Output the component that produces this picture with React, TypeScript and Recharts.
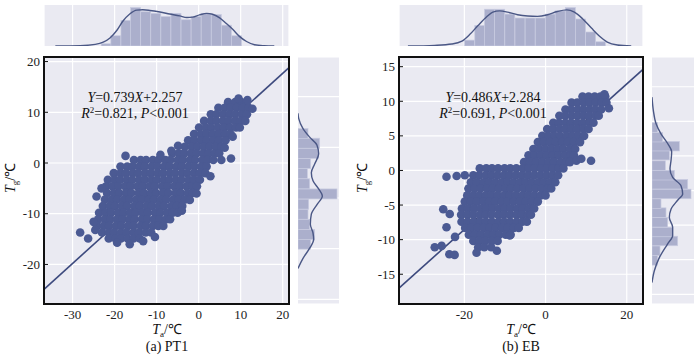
import React from "react";
import { ComposedChart, Scatter, Line, Bar, XAxis, YAxis, CartesianGrid } from "recharts";

const BG = "#eaeaf2";
const DOT = "#4b5a93";
const FIT = "#3d4a7e";
const BAR = "#abafcc";
const KDE = "#4a5785";
const FONT = "'Liberation Serif', 'Times New Roman', serif";

// ---------- panel (a) PT1 ----------
const xTicksA = [-30, -20, -10, 0, 10, 20];
const yTicksA = [-20, -10, 0, 10, 20];

// scatter cloud read row by row: [Tg, [Ta, ...]]
const rowsA: [number, number[]][] = [
  [12.0, [7.0, 8.7, 10.1, 11.4]],
  [10.9, [4.7, 6.2, 7.6, 9.1, 10.5, 11.9]],
  [9.6, [2.9, 4.2, 5.8, 7.3, 8.7, 10.3, 11.5]],
  [8.3, [1.3, 2.9, 4.2, 5.8, 7.1, 8.7, 10.0, 11.1]],
  [7.0, [0.1, 1.7, 3.0, 4.6, 6.0, 7.5, 8.9, 9.8]],
  [5.7, [-1.1, 0.5, 1.9, 3.4, 4.8, 6.3, 7.6]],
  [4.5, [-2.5, -1.0, 0.6, 1.9, 3.5, 4.8, 6.4]],
  [3.2, [-3.3, -1.7, -0.3, 1.2, 2.6, 4.1, 5.4]],
  [1.9, [-6.3, -4.7, -3.4, -1.8, -0.5, 1.1, 2.4, 3.9, 4.9]],
  [0.6, [-15.4, -13.8, -12.5, -10.9, -9.6, -7.9, -6.7, -5.0, -3.7, -2.1, -0.8, 0.9, 2.1, 3.5]],
  [-0.7, [-18.6, -17.0, -15.7, -14.1, -12.8, -11.2, -9.8, -8.2, -6.9, -5.3, -4.0, -2.4, -1.0, 0.6, 1.9]],
  [-2.0, [-20.2, -18.6, -17.3, -15.7, -14.4, -12.8, -11.4, -9.8, -8.5, -6.9, -5.6, -4.0, -2.7, -1.1, 0.3, 1.6]],
  [-3.3, [-21.6, -20.0, -18.7, -17.1, -15.8, -14.1, -12.8, -11.2, -9.9, -8.3, -7.0, -5.4, -4.1, -2.4, -1.1, 0.3]],
  [-4.6, [-22.0, -20.5, -19.1, -17.5, -16.2, -14.6, -13.3, -11.7, -10.4, -8.7, -7.4, -5.8, -4.5, -2.9, -1.5, -0.4]],
  [-5.9, [-21.8, -20.2, -18.9, -17.3, -16.0, -14.3, -13.0, -11.4, -10.1, -8.5, -7.2, -5.5, -4.2, -2.6, -1.4]],
  [-7.2, [-22.3, -20.7, -19.4, -17.8, -16.5, -14.8, -13.5, -11.9, -10.6, -9.0, -7.7, -6.0, -4.7, -3.2]],
  [-8.5, [-22.8, -21.2, -19.9, -18.3, -17.0, -15.3, -14.0, -12.4, -11.1, -9.5, -8.2, -6.5, -5.2, -3.9]],
  [-9.8, [-23.7, -22.2, -20.8, -19.2, -17.9, -16.3, -15.0, -13.4, -12.1, -10.4, -9.1, -7.5, -6.2, -5.0]],
  [-11.1, [-23.9, -22.3, -21.0, -19.4, -18.1, -16.5, -15.2, -13.5, -12.2, -10.6, -9.3, -7.7, -6.8]],
  [-12.4, [-24.2, -22.6, -21.3, -19.7, -18.4, -16.8, -15.5, -13.8, -12.5, -10.9, -9.6, -8.4]],
  [-13.7, [-23.0, -21.4, -20.1, -18.5, -17.2, -15.5, -14.2, -12.6, -11.3]],
  [-14.9, [-21.4, -19.8, -18.5, -16.9, -15.5, -14.0]],
];
const loneA: [number, number][] = [
  [-28.2, -13.7], [-26.3, -14.9], [-25.0, -11.6], [-24.6, -13.2], [-19.4, -15.7],
  [-16.4, -16.0], [-13.2, -15.4], [-10.4, -14.6], [-23.1, -5.0], [-24.3, -6.6],
  [-17.4, 1.4], [-9.1, 1.6], [-6.5, 2.4], [-4.9, 3.4], [-2.1, -7.3], [-4.0, -9.4],
  [-0.5, -6.0], [5.4, 0.6], [7.7, 0.9], [8.1, 5.2], [6.2, 3.0], [12.8, 10.7],
  [11.6, 12.4], [9.5, 12.7], [2.8, -2.6],
];
const fitA = [{ x: -36.8, y: -24.9 }, { x: 21.5, y: 18.8 }];

const binXA = [-22.0, -19.7, -17.3, -15.0, -12.6, -10.2, -7.8, -5.4, -3.0, -0.6, 1.8, 4.2, 6.6, 9.0];
const cntXA = [7, 32, 80, 120, 107, 102, 92, 102, 82, 92, 102, 98, 65, 32];
const kdeXA_x = [-34.1, -28.2, -24.6, -22.7, -21.1, -19.4, -18.0, -16.4, -14.7, -13.3, -11.6, -9.2, -6.9, -4.5, -2.8, -1.4, 0.2, 1.9, 3.3, 5.0, 6.6, 8.1, 9.7, 11.4, 13.3, 15.6, 18.0];
const kdeXA_d = [0, 1, 5, 12, 25, 50, 78, 100, 112, 113, 111, 106, 100, 94, 89, 90, 97, 102, 99, 88, 70, 52, 30, 14, 4, 1, 0];

const binYA = [9.1, 7.2, 5.2, 3.2, 1.2, -0.8, -2.8, -4.8, -6.8, -8.8, -10.8, -12.7];
const cntYA = [38, 50, 35, 30, 32, 117, 35, 28, 38, 62, 65, 30];
const kdeYA_y = [13.9, 11.9, 9.9, 8.2, 6.9, 5.2, 3.2, 1.3, -0.4, -1.7, -3.4, -5.0, -6.7, -8.7, -10.4, -12.0, -13.7, -15.7, -16.7];
const kdeYA_d = [0, 15, 35, 47, 45, 37, 40, 57, 73, 63, 45, 40, 50, 62, 57, 35, 15, 2, 0];

// ---------- panel (b) EB ----------
const xTicksB = [-20, 0, 20];
const yTicksB = [-15, -10, -5, 0, 5, 10, 15];

const rowsB: [number, number[]][] = [
  [10.7, [9.1, 10.6, 12.1, 13.5, 14.7]],
  [9.8, [6.4, 7.8, 9.4, 10.8, 12.3, 13.8, 15.0]],
  [8.8, [4.9, 6.3, 7.9, 9.3, 10.8, 12.2, 13.7]],
  [7.9, [3.4, 4.8, 6.4, 7.8, 9.3, 10.7, 12.3, 13.1]],
  [6.9, [1.9, 3.3, 4.9, 6.3, 7.8, 9.2, 10.8, 11.8]],
  [6.0, [0.4, 1.8, 3.4, 4.8, 6.3, 7.7, 9.3, 10.6]],
  [5.0, [-0.8, 0.7, 2.2, 3.6, 5.2, 6.6, 8.1, 9.5]],
  [4.1, [-1.9, -0.4, 1.1, 2.5, 4.1, 5.5, 7.0, 8.5]],
  [3.1, [-3.0, -1.5, 0.0, 1.5, 3.0, 4.4, 6.0, 7.3]],
  [2.2, [-4.2, -2.7, -1.2, 0.3, 1.8, 3.2, 4.8, 6.2, 7.0]],
  [1.2, [-5.3, -3.8, -2.3, -0.8, 0.7, 2.1, 3.7, 5.1, 6.0]],
  [0.3, [-16.2, -14.6, -13.2, -11.7, -10.1, -8.7, -7.2, -5.6, -4.2, -2.7, -1.1, 0.3, 1.8, 3.2, 4.4]],
  [-0.7, [-17.8, -16.3, -14.7, -13.3, -11.8, -10.2, -8.8, -7.3, -5.8, -4.3, -2.8, -1.3, 0.2, 1.7, 3.1]],
  [-1.7, [-18.4, -16.9, -15.3, -13.9, -12.4, -10.8, -9.4, -7.9, -6.3, -4.9, -3.4, -1.8, -0.4, 1.1, 2.4]],
  [-2.6, [-19.0, -17.5, -16.0, -14.4, -13.0, -11.5, -9.9, -8.5, -7.0, -5.4, -4.0, -2.5, -0.9, 0.5, 1.4]],
  [-3.6, [-19.3, -17.8, -16.3, -14.7, -13.3, -11.8, -10.2, -8.8, -7.3, -5.7, -4.3, -2.8, -1.2, 0.0]],
  [-4.5, [-19.9, -18.4, -16.9, -15.3, -13.9, -12.4, -10.8, -9.4, -7.9, -6.3, -4.9, -3.4, -1.9]],
  [-5.5, [-20.6, -19.1, -17.6, -16.0, -14.6, -13.1, -11.5, -10.1, -8.6, -7.0, -5.6, -4.1, -2.8]],
  [-6.4, [-20.8, -19.3, -17.8, -16.2, -14.8, -13.3, -11.7, -10.3, -8.8, -7.2, -5.8, -4.3, -3.6]],
  [-7.4, [-20.7, -19.2, -17.7, -16.1, -14.7, -13.2, -11.6, -10.2, -8.7, -7.1, -5.7, -4.6]],
  [-8.3, [-19.8, -18.3, -16.8, -15.2, -13.8, -12.3, -10.7, -9.3, -7.8, -6.6]],
  [-9.3, [-18.9, -17.4, -15.9, -14.3, -12.9, -11.4, -9.8, -8.6]],
  [-10.2, [-17.8, -16.3, -14.8, -13.2, -11.8]],
  [-11.1, [-16.6, -15.1, -13.4]],
];
const loneB: [number, number][] = [
  [-24.4, -0.9], [-21.9, -0.8], [-19.9, -0.7], [-25.2, -5.6], [-23.6, -6.3],
  [-24.4, -8.2], [-25.6, -10.9], [-27.3, -11.1], [-23.7, -12.1], [-22.4, -12.2],
  [-17.0, -11.9], [-8.8, -9.4], [-12.0, -11.6], [7.6, 1.4], [8.8, 1.7],
  [11.2, 1.4], [14.5, 11.0], [15.6, 9.0], [-22.3, -9.6],
];
const fitB = [{ x: -36.1, y: -17.0 }, { x: 24.0, y: 14.6 }];

const binXB = [-18.7, -16.2, -13.8, -11.3, -8.8, -6.3, -3.8, -1.3, 1.2, 3.6, 6.1, 8.6, 11.1, 13.5];
const cntXB = [18, 63, 113, 113, 98, 86, 86, 86, 98, 108, 118, 83, 43, 13];
const kdeXB_x = [-33.9, -27.3, -23.1, -20.6, -18.7, -16.7, -14.5, -13.0, -11.3, -9.3, -6.9, -4.4, -2.0, 0.5, 2.9, 5.2, 7.1, 9.1, 11.3, 13.3, 15.2, 17.7, 21.1];
const kdeXB_d = [0, 2, 6, 15, 35, 62, 90, 104, 108, 104, 96, 92, 91, 96, 106, 111, 104, 84, 55, 30, 12, 3, 0];

const binYB = [10.1, 8.7, 7.3, 6.0, 4.6, 3.2, 1.9, 0.5, -0.9, -2.2, -3.6, -5.1, -6.4, -7.7, -9.1];
const cntYB = [17, 24, 77, 62, 47, 42, 27, 117, 107, 67, 40, 52, 82, 32, 17];
const kdeYB_y = [13.3, 11.6, 9.7, 7.7, 6.5, 5.3, 3.9, 2.7, 1.4, 0.5, -0.7, -1.9, -3.1, -4.3, -5.6, -6.8, -8.2, -9.7, -11.6, -13.5];
const kdeYB_d = [0, 7, 22, 47, 62, 62, 52, 57, 77, 92, 87, 62, 54, 57, 59, 47, 27, 12, 4, 0];

const toPoints = (rows: [number, number[]][], lone: [number, number][]) => [
  ...rows.flatMap(([y, xs]) => xs.map((x) => ({ x, y }))),
  ...lone.map(([x, y]) => ({ x, y })),
];
const zipX = (xs: number[], ds: number[], key: string) => xs.map((x, i) => ({ x, [key]: ds[i] }));
const zipY = (ys: number[], ds: number[], key: string) => ys.map((y, i) => ({ y, [key]: ds[i] }));

const dotShape = (p: any) => <circle cx={p.cx} cy={p.cy} r={4.3} fill={DOT} />;

// histogram bars: keep recharts' position, force the bin width in pixels
const colBar = (px: number) => (p: any) => (
  <rect x={p.x + p.width / 2 - px / 2} y={p.y} width={px} height={Math.max(0, p.height)}
    fill={BAR} stroke="#c8cbe0" strokeWidth={0.7} />
);
const rowBar = (px: number) => (p: any) => (
  <rect x={p.x} y={p.y + p.height / 2 - px / 2} width={Math.max(0, p.width)} height={px}
    fill={BAR} stroke="#c8cbe0" strokeWidth={0.7} />
);

const yTick = (p: any) => (
  <g>
    <line x1={p.x + 4} x2={p.x + 8} y1={p.y} y2={p.y} stroke="#111" strokeWidth={1} />
    <text x={p.x} y={p.y} dy="0.35em" textAnchor="end" fontSize={13} fontFamily={FONT} fill="#222">
      {p.payload.value}
    </text>
  </g>
);
const xTick = (p: any) => (
  <text x={p.x} y={p.y} dy="0.75em" textAnchor="middle" fontSize={13} fontFamily={FONT} fill="#222">
    {p.payload.value}
  </text>
);

const M0 = { top: 0, right: 0, bottom: 0, left: 0 };

function MainPlot(props: any) {
  const { left, top, w, h, xDomain, yDomain, xTicks, yTicks, points, fit } = props;
  const aw = 44;
  const ah = 24;
  const pad = 10;
  return (
    <div style={{ position: "absolute", left: left - aw, top: top - pad, width: w + aw + pad, height: h + ah + pad }}>
      <ComposedChart width={w + aw + pad} height={h + ah + pad} margin={{ top: pad, right: pad, bottom: 0, left: 0 }}>
        <CartesianGrid fill={BG} fillOpacity={1} stroke="#ffffff" strokeWidth={1.2} />
        <XAxis type="number" dataKey="x" domain={xDomain} ticks={xTicks} interval={0} allowDataOverflow
          height={ah} axisLine={false} tickLine={false} tickSize={0} tickMargin={5} tick={xTick} />
        <YAxis type="number" dataKey="y" domain={yDomain} ticks={yTicks} interval={0} allowDataOverflow
          width={aw} axisLine={false} tickLine={false} tickSize={0} tickMargin={4} tick={yTick} />
        <Scatter data={points} fill={DOT} shape={dotShape} isAnimationActive={false} />
        <Line data={fit} dataKey="y" type="linear" stroke={FIT} strokeWidth={1.6} dot={false} isAnimationActive={false} />
      </ComposedChart>
      <div style={{ position: "absolute", left: aw - 1, top: pad - 1, width: w + 2, height: h + 2, border: "2px solid #111", boxSizing: "border-box" }} />
    </div>
  );
}

function TopHist(props: any) {
  const { left, top, w, h, xDomain, xTicks, bars, kde, max, barPx } = props;
  return (
    <div style={{ position: "absolute", left, top, width: w, height: h }}>
      <ComposedChart width={w} height={h} data={bars} margin={M0}>
        <CartesianGrid fill={BG} fillOpacity={1} stroke="#ffffff" strokeWidth={1.2} horizontal={false} />
        <XAxis type="number" dataKey="x" domain={xDomain} ticks={xTicks} allowDataOverflow hide />
        <YAxis type="number" domain={[0, max]} allowDataOverflow hide />
        <Bar dataKey="c" fill={BAR} shape={colBar(barPx)} isAnimationActive={false} />
        <Line data={kde} dataKey="d" type="monotone" stroke={KDE} strokeWidth={1.4} dot={false} isAnimationActive={false} />
      </ComposedChart>
    </div>
  );
}

function SideHist(props: any) {
  const { left, top, w, h, yDomain, yTicks, bars, kde, max, barPx } = props;
  return (
    <div style={{ position: "absolute", left, top, width: w, height: h }}>
      <ComposedChart layout="vertical" width={w} height={h} data={bars} margin={M0}>
        <CartesianGrid fill={BG} fillOpacity={1} stroke="#ffffff" strokeWidth={1.2} vertical={false} />
        <XAxis type="number" domain={[0, max]} allowDataOverflow hide />
        <YAxis type="number" dataKey="y" domain={yDomain} ticks={yTicks} allowDataOverflow hide />
        <Bar dataKey="c" fill={BAR} shape={rowBar(barPx)} isAnimationActive={false} />
        <Line data={kde} dataKey="d" type="monotone" stroke={KDE} strokeWidth={1.4} dot={false} isAnimationActive={false} />
      </ComposedChart>
    </div>
  );
}

function AxisTitle({ x, y, sub, rotate }: { x: number; y: number; sub: string; rotate?: boolean }) {
  return (
    <text x={x} y={y} textAnchor="middle" fontSize={14} fontFamily={FONT} fill="#111"
      transform={rotate ? `rotate(-90 ${x} ${y})` : undefined}>
      <tspan fontStyle="italic">T</tspan>
      <tspan fontSize={9} dy={3}>{sub}</tspan>
      <tspan dy={-3}>/℃</tspan>
    </text>
  );
}

function FitText({ x, y, eq, r2 }: { x: number; y: number; eq: [string, string]; r2: string }) {
  return (
    <g fontFamily={FONT} fontSize={14} fill="#111" textAnchor="middle">
      <text x={x} y={y}>
        <tspan fontStyle="italic">Y</tspan>={eq[0]}<tspan fontStyle="italic">X</tspan>+{eq[1]}
      </text>
      <text x={x} y={y + 16}>
        <tspan fontStyle="italic">R</tspan>
        <tspan fontSize={9} dy={-5}>2</tspan>
        <tspan dy={5}>={r2}, </tspan>
        <tspan fontStyle="italic">P</tspan>{"<0.001"}
      </text>
    </g>
  );
}

export default function App() {
  const ptsA = toPoints(rowsA, loneA);
  const ptsB = toPoints(rowsB, loneB);
  const xDomA = [-36.8, 21.5];
  const yDomA = [-27.8, 20.9];
  const xDomB = [-36.1, 24.0];
  const yDomB = [-19.3, 16.4];

  return (
    <div style={{ position: "absolute", left: 0, top: 0, width: 700, height: 357, background: "#ffffff", overflow: "hidden" }}>
      <TopHist left={44} top={5} w={245} h={41} xDomain={xDomA} xTicks={xTicksA}
        bars={zipX(binXA, cntXA, "c")} kde={zipX(kdeXA_x, kdeXA_d, "d")} max={128} barPx={10} />
      <SideHist left={298} top={57} w={41} h={247} yDomain={yDomA} yTicks={yTicksA}
        bars={zipY(binYA, cntYA, "c")} kde={zipY(kdeYA_y, kdeYA_d, "d")} max={123} barPx={10} />
      <MainPlot left={44} top={57} w={245} h={247} xDomain={xDomA} yDomain={yDomA}
        xTicks={xTicksA} yTicks={yTicksA} points={ptsA} fit={fitA} />

      <TopHist left={399} top={5} w={244} h={41} xDomain={xDomB} xTicks={xTicksB}
        bars={zipX(binXB, cntXB, "c")} kde={zipX(kdeXB_x, kdeXB_d, "d")} max={126} barPx={10} />
      <SideHist left={652} top={57} w={42} h={247} yDomain={yDomB} yTicks={yTicksB}
        bars={zipY(binYB, cntYB, "c")} kde={zipY(kdeYB_y, kdeYB_d, "d")} max={126} barPx={9.5} />
      <MainPlot left={399} top={57} w={244} h={247} xDomain={xDomB} yDomain={yDomB}
        xTicks={xTicksB} yTicks={yTicksB} points={ptsB} fit={fitB} />

      <svg width={700} height={357} style={{ position: "absolute", left: 0, top: 0, pointerEvents: "none" }}>
        <FitText x={135} y={102} eq={["0.739", "2.257"]} r2="0.821" />
        <FitText x={493} y={102} eq={["0.486", "2.284"]} r2="0.691" />
        <AxisTitle x={15} y={178} sub="g" rotate />
        <AxisTitle x={367} y={178} sub="g" rotate />
        <AxisTitle x={167} y={334} sub="a" />
        <AxisTitle x={521} y={334} sub="a" />
        <text x={167} y={351} textAnchor="middle" fontSize={14} fontFamily={FONT} fill="#111">(a) PT1</text>
        <text x={521} y={351} textAnchor="middle" fontSize={14} fontFamily={FONT} fill="#111">(b) EB</text>
      </svg>
    </div>
  );
}
